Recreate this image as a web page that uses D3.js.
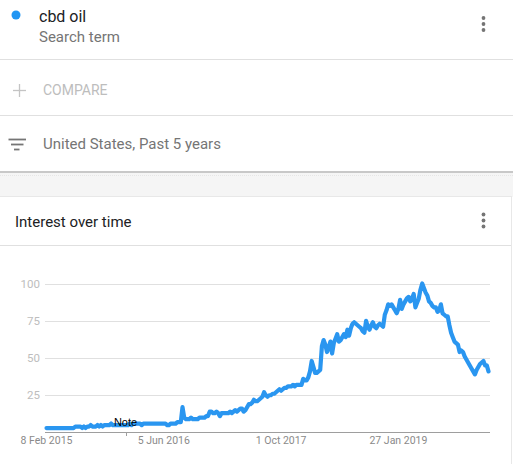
<!DOCTYPE html>
<html>
<head>
<meta charset="utf-8">
<script src="https://cdn.jsdelivr.net/npm/d3@7"></script>
<style>
  html, body { margin: 0; padding: 0; background: #fff; }
  svg { display: block; font-family: Roboto, "Noto Sans", Arial, sans-serif; }
</style>
</head>
<body>
<svg id="chart" width="513" height="464"></svg>
<script>
// ---- data ----
const searchTerm = "cbd oil";
const searchTermType = "Search term";
const compareLabel = "COMPARE";
const filterLabel = "United States, Past 5 years";
const chartTitle = "Interest over time";
const startDate = "2015-02-08";   // first weekly point
const endDate = "2020-02-02";     // last weekly point
const yTicks = [25, 50, 75, 100];
const xTickDates = ["2015-02-08", "2016-06-05", "2017-10-01", "2019-01-27"];
const xTickLabels = ["8 Feb 2015", "5 Jun 2016", "1 Oct 2017", "27 Jan 2019"];
const noteDate = "2016-01-01";
const noteLabel = "Note";
const interest = [
  3,3,3,3,3,3,3,3,3,3,
  3,3,3,3,3,3,3,4,4,4,
  4,3,4,3,4,4,5,4,4,4,
  5,4,5,4,5,5,5,5,6,5,
  5,5,5,5,5,5,5,5,5,6,
  5,6,6,6,6,6,5,6,6,6,
  6,6,6,6,6,6,6,6,6,6,
  6,5,5,6,6,6,6,7,7,7,
  17,10,9,9,9,10,9,9,9,9,
  10,10,10,10,11,11,14,14,13,13,
  14,13,11,13,13,13,13,13,14,13,
  14,15,14,15,16,16,14,15,17,19,
  19,20,22,21,21,22,23,24,27,25,
  24,25,25,26,26,27,28,29,28,29,
  30,30,31,31,31,32,31,32,32,32,
  32,36,35,35,37,41,48,44,40,40,
  41,42,58,62,59,54,57,61,53,60,
  63,66,61,62,64,66,64,69,65,70,
  73,74,73,72,71,70,68,67,75,71,
  69,72,74,71,70,72,73,72,71,79,
  82,86,85,86,84,82,80,83,89,83,
  86,88,90,91,88,90,93,84,87,90,
  96,100,97,94,92,88,87,85,84,84,
  81,82,86,80,79,78,78,72,67,64,
  61,60,59,54,55,54,51,49,47,45,
  43,41,39,42,44,46,47,48,45,45,
  41
];

// ---- drawing ----
const parse = d3.utcParse("%Y-%m-%d");
const t0 = parse(startDate);
const series = interest.map((v, i) => ({ date: d3.utcDay.offset(t0, i * 7), value: v }));

const svg = d3.select("#chart");
const W = 513, H = 464;

// header section
svg.append("rect").attr("x", 0).attr("y", 0).attr("width", W).attr("height", 172).attr("fill", "#fff");
svg.append("circle").attr("cx", 16).attr("cy", 15).attr("r", 4.5).attr("fill", "#2196f3");
svg.append("text").attr("x", 39).attr("y", 21.5).attr("font-size", 16).attr("fill", "#202124").text(searchTerm);
svg.append("text").attr("x", 39).attr("y", 41.5).attr("font-size", 15).attr("fill", "#757575").text(searchTermType);
function kebab(cx, cy) {
  [-6, 0, 6].forEach(dy => svg.append("circle").attr("cx", cx).attr("cy", cy + dy).attr("r", 1.9).attr("fill", "#757575"));
}
kebab(483.5, 24);
svg.append("line").attr("x1", 0).attr("x2", W).attr("y1", 59.5).attr("y2", 59.5).attr("stroke", "#e0e0e0");

// compare row
svg.append("line").attr("x1", 13).attr("x2", 26).attr("y1", 90.5).attr("y2", 90.5).attr("stroke", "#c4c4c4").attr("stroke-width", 1.3);
svg.append("line").attr("x1", 19.5).attr("x2", 19.5).attr("y1", 84).attr("y2", 97).attr("stroke", "#c4c4c4").attr("stroke-width", 1.3);
svg.append("text").attr("x", 43).attr("y", 95).attr("font-size", 14).attr("fill", "#bdbdbd").text(compareLabel);
svg.append("line").attr("x1", 0).attr("x2", W).attr("y1", 115.5).attr("y2", 115.5).attr("stroke", "#e0e0e0");

// filter row
[[8.5, 26], [11, 23.5], [14, 19.5]].forEach((p, i) => {
  svg.append("line").attr("x1", p[0]).attr("x2", p[1]).attr("y1", 139.5 + i * 5).attr("y2", 139.5 + i * 5)
    .attr("stroke", "#757575").attr("stroke-width", 1.8);
});
svg.append("text").attr("x", 43).attr("y", 148.5).attr("font-size", 15).attr("fill", "#757575").text(filterLabel);

// separator / grey band
svg.append("rect").attr("x", 0).attr("y", 171).attr("width", W).attr("height", 2).attr("fill", "#c8c8c8");
svg.append("rect").attr("x", 0).attr("y", 173).attr("width", W).attr("height", 24).attr("fill", "#f5f5f5");
svg.append("line").attr("x1", 0).attr("x2", W).attr("y1", 175.5).attr("y2", 175.5).attr("stroke", "#e6e6e6").attr("stroke-dasharray", "1,1");

// card
svg.append("rect").attr("x", -1).attr("y", 196.5).attr("width", 512.5).attr("height", 280).attr("fill", "#fff").attr("stroke", "#e8e8e8");
svg.append("text").attr("x", 15).attr("y", 227).attr("font-size", 15).attr("fill", "#202124").text(chartTitle);
kebab(483.5, 220.5);
svg.append("line").attr("x1", 0).attr("x2", 511).attr("y1", 245.5).attr("y2", 245.5).attr("stroke", "#e0e0e0");

// chart
const x = d3.scaleUtc().domain([parse(startDate), parse(endDate)]).range([46.5, 488.5]);
const y = d3.scaleLinear().domain([0, 100]).range([432.5, 283.5]);
const plotL = 45, plotR = 490;

const grid = svg.append("g");
grid.selectAll("line").data(yTicks).join("line")
  .attr("x1", plotL).attr("x2", plotR)
  .attr("y1", d => Math.round(y(d)) + 0.5).attr("y2", d => Math.round(y(d)) + 0.5)
  .attr("stroke", "#e0e0e0");
grid.selectAll("text").data(yTicks).join("text")
  .attr("x", 40).attr("y", d => y(d) + 4)
  .attr("text-anchor", "end").attr("font-size", 11.5).attr("fill", "#bdbdbd")
  .text(d => d);

// baseline
svg.append("line").attr("x1", plotL).attr("x2", plotR).attr("y1", 432.5).attr("y2", 432.5).attr("stroke", "#9e9e9e");

// x labels
svg.append("g").selectAll("text").data(xTickDates).join("text")
  .attr("x", d => x(parse(d))).attr("y", 444)
  .attr("text-anchor", "middle").attr("font-size", 10.5).attr("fill", "#8a8a8a")
  .text((d, i) => xTickLabels[i]);

// line
const line = d3.line().x(d => x(d.date)).y(d => y(d.value));
svg.append("path").datum(series).attr("d", line)
  .attr("fill", "none").attr("stroke", "#2a96f0").attr("stroke-width", 4.2)
  .attr("stroke-linejoin", "round").attr("stroke-linecap", "round");

// note marker
const nx = Math.round(x(parse(noteDate))) + 0.5;
svg.append("line").attr("x1", nx).attr("x2", nx).attr("y1", 432).attr("y2", 436).attr("stroke", "#9e9e9e");
svg.append("text").attr("x", nx - 1).attr("y", 426).attr("text-anchor", "middle")
  .attr("font-family", "Arial, 'Liberation Sans', sans-serif").attr("font-size", 11).attr("fill", "#000").text(noteLabel);
</script>
</body>
</html>
